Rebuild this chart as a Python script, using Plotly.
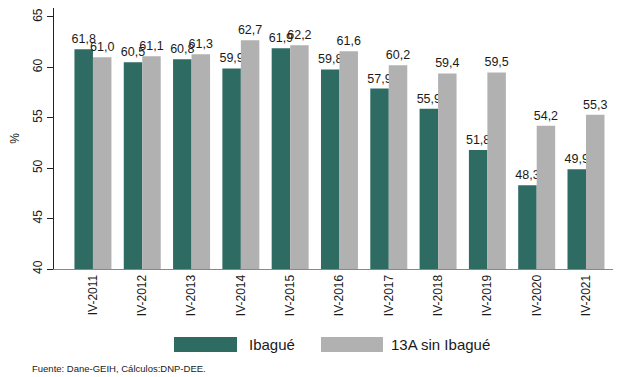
import plotly.graph_objects as go

categories = ["IV-2011", "IV-2012", "IV-2013", "IV-2014", "IV-2015", "IV-2016",
              "IV-2017", "IV-2018", "IV-2019", "IV-2020", "IV-2021"]
ibague = [61.8, 60.5, 60.8, 59.9, 61.9, 59.8, 57.9, 55.9, 51.8, 48.3, 49.9]
sin_ibague = [61.0, 61.1, 61.3, 62.7, 62.2, 61.6, 60.2, 59.4, 59.5, 54.2, 55.3]
y_ticks = [40, 45, 50, 55, 60, 65]
series_names = ["Ibagué", "13A sin Ibagué"]

GREEN = "#2E6B63"
GRAY = "#B1B1B1"
FONT = "Liberation Sans, Arial, sans-serif"
TXT = "#1a1a1a"


def fmt(v):
    return f"{v:.1f}".replace(".", ",")


fig = go.Figure()
for name, vals, col in [(series_names[0], ibague, GREEN), (series_names[1], sin_ibague, GRAY)]:
    fig.add_trace(go.Bar(x=categories, y=vals, name=name, marker_color=col,
                         marker_line_width=0,
                         text=[fmt(v) for v in vals], textposition="outside",
                         constraintext="none",
                         textfont=dict(size=12.5, color=TXT, family=FONT),
                         cliponaxis=False, showlegend=False))

# The page adds an 8 px body margin, so the figure is 8 px smaller on each axis
fig.update_layout(
    width=613, height=369,
    margin=dict(l=46, r=0, t=0, b=108, autoexpand=False),
    paper_bgcolor="white", plot_bgcolor="white",
    font=dict(family=FONT, size=12, color=TXT),
    barmode="group", bargap=0.25, bargroupgap=0,
    showlegend=False,
)

# legend keys (decoration, paper coordinates)
legend_items = [(series_names[0], GREEN, 0.2116, 0.3228, 0.3404),
                (series_names[1], GRAY, 0.4709, 0.5802, 0.5908)]
for name, col, x0, x1, xt in legend_items:
    fig.add_shape(type="rect", xref="paper", yref="paper", x0=x0, x1=x1,
                  y0=-0.318, y1=-0.2605, fillcolor=col, line_width=0)
    fig.add_annotation(text=name, xref="paper", yref="paper", x=xt, y=-0.2874,
                       xanchor="left", yanchor="middle", showarrow=False,
                       font=dict(size=15, color=TXT))

fig.add_annotation(text="Fuente: Dane-GEIH, Cálculos:DNP-DEE.", xref="paper", yref="paper",
                   x=-0.0423, y=-0.383, xanchor="left", yanchor="middle", showarrow=False,
                   font=dict(size=9.5, color=TXT))

fig.update_xaxes(type="category", range=[-0.79, 10.71], showline=True, linecolor="#888888",
                 linewidth=1, ticks="", tickangle=-90, tickfont=dict(size=12),
                 showgrid=False, automargin=False)
fig.update_yaxes(range=[40, 65.89], tickvals=y_ticks, showline=True, linecolor="#222222",
                 linewidth=1, ticks="outside", ticklen=6, tickcolor="#222222",
                 tickangle=-90, tickfont=dict(size=12), showgrid=False, zeroline=False,
                 automargin=False,
                 title=dict(text="%", font=dict(size=12), standoff=14))

fig.write_html("out.html")
